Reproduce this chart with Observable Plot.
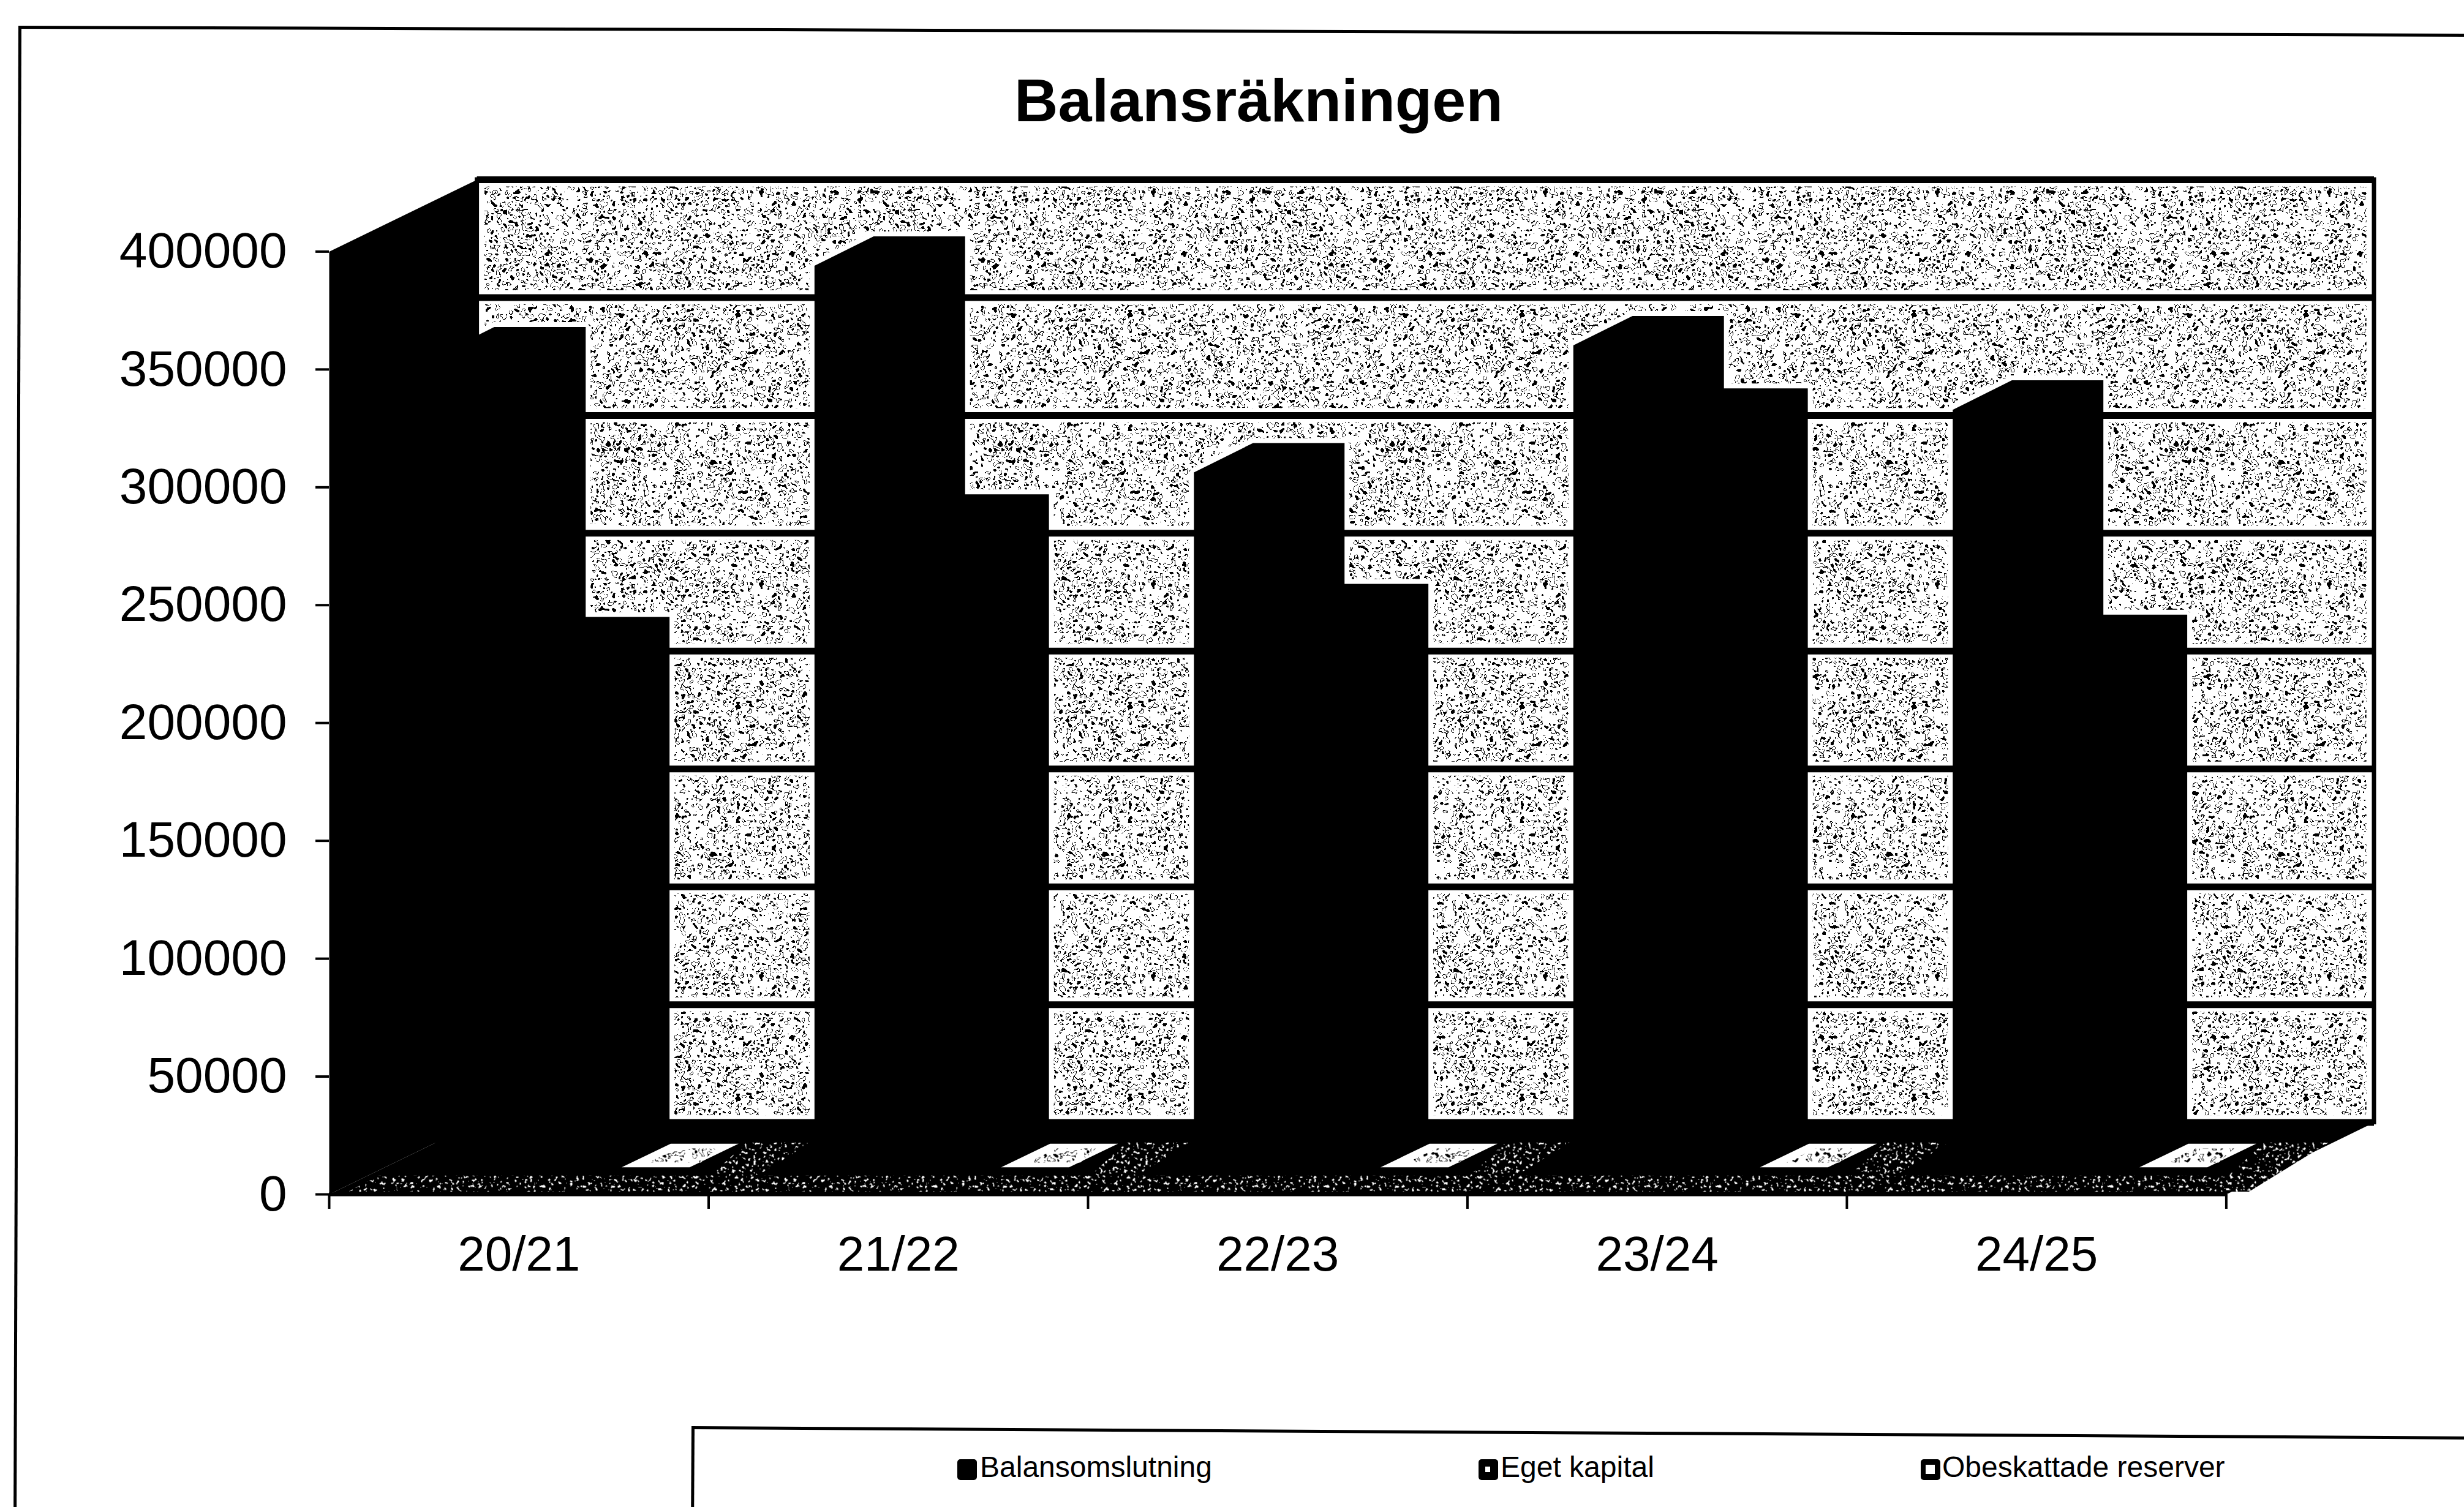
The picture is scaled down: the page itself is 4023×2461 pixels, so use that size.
<!DOCTYPE html>
<html lang="sv">
<head>
<meta charset="utf-8">
<title>Balansräkningen</title>
<script src="https://cdn.jsdelivr.net/npm/d3@7"></script>
<script src="https://cdn.jsdelivr.net/npm/@observablehq/plot@0.6"></script>
<style>
  html, body { margin: 0; padding: 0; background: #fff; }
  body { position: relative; width: 4023px; height: 2461px; overflow: hidden; font-family: "Liberation Sans", Arial, sans-serif; color: #000; }
  #chart { position: absolute; left: 0; top: 0; }
  #chart svg { display: block; }
  #title { position: absolute; left: 1655px; width: 800px; top: 108px; text-align: center; font-size: 99px; line-height: 112px; font-weight: 700; white-space: nowrap; }
  #frame { position: absolute; left: 30px; top: 42px; width: 4400px; height: 2800px; border-left: 5px solid #000; border-top: 5px solid #000; transform-origin: 0 0; transform: rotate(0.187deg); }
  #legendFrame { position: absolute; left: 1129px; top: 2329px; width: 3200px; height: 400px; border-left: 5px solid #000; border-top: 5px solid #000; transform-origin: 0 0; transform: rotate(0.33deg); }
  .lg { position: absolute; top: 2368px; font-size: 48px; line-height: 56px; white-space: nowrap; }
  .sw { position: absolute; top: 2383px; width: 32px; height: 34px; background: #000; border-radius: 5px; box-sizing: border-box; }
  .sw.mid::after { content: ""; position: absolute; left: 11px; top: 12px; width: 8px; height: 9px; background: #fff; }
  .sw.lite::after { content: ""; position: absolute; left: 8px; top: 9px; width: 15px; height: 15px; background: #fff; }
</style>
</head>
<body>
<div id="frame"></div>
<div id="chart"></div>
<div id="title">Balansräkningen</div>
<div id="legendFrame"></div>
<div id="legend"></div>
<script>
const categories = ["20/21", "21/22", "22/23", "23/24", "24/25"];
const balansomslutning = [345500, 384000, 296300, 350200, 322900];
const egetKapital = [225000, 277000, 239000, 322000, 226000];
const obeskattadeReserver = [1500, 1500, 1500, 1500, 1500];
const yTicks = [0, 50000, 100000, 150000, 200000, 250000, 300000, 350000, 400000];
const seriesNames = ["Balansomslutning", "Eget kapital", "Obeskattade reserver"];

// 3D projection of the spreadsheet-style chart, in data units
const wallRun = 0.39, wallRise = 30500;
const barBase = 10000;
const seriesSlots = [
  {a: 0.279, b: 0.52, run: 0.156, rise: 12500},
  {a: 0.50, b: 0.768, run: 0.129, rise: 10000},
  {a: 0.771, b: 0.95, run: 0.129, rise: 10000}
];
const catCount = categories.length;

const seriesValues = [balansomslutning, egetKapital, obeskattadeReserver];
const barPolys = seriesValues.flatMap((vals, s) => vals.flatMap((v, i) => {
  const {a: sa, b: sb, run, rise} = seriesSlots[s];
  const a = i + sa, b = i + sb, id = `${s}-${i}`, top = barBase + v;
  return [
    [a, barBase], [a, top], [a + run, top + rise], [b + run, top + rise],
    [b + run, barBase + rise], [b, barBase]
  ].map(([x, y]) => ({id, x, y}));
}));
const topSlot = seriesSlots[2];
const barTops = obeskattadeReserver.flatMap((v, i) => {
  const a = i + topSlot.a, b = i + topSlot.b, top = barBase + v, id = `t${i}`;
  return [[a, top], [a + topSlot.run, top + topSlot.rise], [b + topSlot.run, top + topSlot.rise], [b, top]].map(([x, y]) => ({id, x, y}));
});
const barTopSpecks = obeskattadeReserver.flatMap((v, i) => {
  const a = i + topSlot.a, b = i + topSlot.b, top = barBase + v, id = `s${i}`, r = topSlot.run;
  return [[a + 0.07, top + 2000], [a + 0.07 + r * 0.6, top + 8000], [b + r * 0.55, top + 8000], [b + 0.03, top + 2000]].map(([x, y]) => ({id, x, y}));
});
const maxTick = yTicks[yTicks.length - 1];
const sideWall = [[0, 0], [0, maxTick], [wallRun, maxTick + wallRise], [wallRun, wallRise]].map(([x, y]) => ({x, y}));
const floor = [[0, 0], [catCount, 0], [catCount + wallRun, wallRise], [wallRun, wallRise]].map(([x, y]) => ({x, y}));
const floorStrip = [[0.05, 1200], [catCount - 0.02, 1200], [catCount + 0.03, 8000], [0.13, 8000]].map(([x, y]) => ({x, y}));
const floorPatches = d3.range(catCount).flatMap(i =>
  [[i + 0.96, 1200], [i + 1.06, 1200], [i + 1.27, 22000], [i + 1.1, 22000]].map(([x, y]) => ({id: i, x, y})));
const wallCells = yTicks.slice(0, -1).map(v => ({
  x1: wallRun + 0.02, x2: catCount + wallRun - 0.02, y1: v + wallRise + 3000, y2: v + wallRise + 50000 - 3000
}));

function noiseFilter(id, freq, seed, table) {
  const fn = ["R", "G", "B"].map(c => `<feFunc${c} type="discrete" tableValues="${table}"/>`).join("");
  return `<filter id="${id}" x="0" y="0" width="100%" height="100%" color-interpolation-filters="sRGB">
      <feTurbulence type="fractalNoise" baseFrequency="${freq}" numOctaves="2" seed="${seed}" stitchTiles="stitch"/>
      <feColorMatrix type="matrix" values="1 0 0 0 0  1 0 0 0 0  1 0 0 0 0  0 0 0 0 1"/>
      <feComponentTransfer>${fn}</feComponentTransfer>
    </filter>`;
}
function speckleDefs() {
  const ns = "http://www.w3.org/2000/svg";
  const defs = document.createElementNS(ns, "defs");
  // Threshold tables: 0 is a black speck, 1 is paper. Low noise gives blobs, a narrow band gives worm-like specks.
  const worms = "0 0 0 0 0 0 0 0 0 0 0 0 0 1 1 1 1 1 1 1 1 1 1 1 0 0 1 1 1 1 1 1 1 1 1 1 1 1 1 1";
  const sparse = "0 0 0 0 0 0 0 0 0 0 0 0 0 1 1 1 1 1 1 1";
  defs.innerHTML = noiseFilter("noiseDark", 0.1, 7, worms) + noiseFilter("noiseSparse", 0.2, 3, sparse) + `
    <pattern id="speckle" patternUnits="userSpaceOnUse" width="640" height="640">
      <rect width="640" height="640" filter="url(#noiseDark)"/>
    </pattern>
    <pattern id="speckleSparse" patternUnits="userSpaceOnUse" width="640" height="640">
      <rect width="640" height="640" filter="url(#noiseSparse)"/>
    </pattern>`;
  return defs;
}

const chart = Plot.plot({
  width: 4023,
  height: 2461,
  marginLeft: 537,
  marginRight: 147,
  marginTop: 293,
  marginBottom: 511,
  style: {background: "transparent", fontFamily: "'Liberation Sans', Arial, sans-serif", color: "#000", overflow: "visible"},
  x: {domain: [0, catCount + wallRun], axis: null},
  y: {domain: [0, maxTick + wallRise], axis: null},
  marks: [
    speckleDefs,
    Plot.rect([{}], {x1: wallRun, x2: catCount + wallRun, y1: wallRise, y2: maxTick + wallRise, fill: "#fff"}),
    Plot.rect(wallCells, {x1: "x1", x2: "x2", y1: "y1", y2: "y2", fill: "url(#speckle)"}),
    Plot.line(barPolys, {x: "x", y: "y", z: "id", fill: "#fff", stroke: "#fff", strokeWidth: 16, strokeLinejoin: "miter"}),
    Plot.ruleY(yTicks, {y: d => d + wallRise, x1: wallRun, x2: catCount + wallRun, stroke: "#000", strokeWidth: 11}),
    Plot.rect([{}], {x1: wallRun, x2: catCount + wallRun, y1: wallRise, y2: maxTick + wallRise, fill: "none", stroke: "#000", strokeWidth: 7}),
    Plot.line(sideWall, {x: "x", y: "y", fill: "#000", stroke: "none"}),
    Plot.line(floor, {x: "x", y: "y", fill: "#000", stroke: "none"}),
    Plot.line(floorStrip, {x: "x", y: "y", fill: "url(#speckleSparse)", stroke: "none"}),
    Plot.line(floorPatches, {x: "x", y: "y", z: "id", fill: "url(#speckleSparse)", stroke: "none"}),
    Plot.line(barPolys, {x: "x", y: "y", z: "id", fill: "#000", stroke: "none"}),
    Plot.line(barTops, {x: "x", y: "y", z: "id", fill: "#fff", stroke: "none"}),
    Plot.line(barTopSpecks, {x: "x", y: "y", z: "id", fill: "url(#speckle)", stroke: "none"}),
    Plot.axisY({ticks: yTicks, anchor: "left", label: null, tickSize: 22, tickPadding: 47, fontSize: 82, strokeWidth: 4, tickFormat: d => String(d)}),
    Plot.ruleY([0], {stroke: "#000", strokeWidth: 6, x1: 0, x2: catCount}),
    Plot.axisX({ticks: d3.range(catCount + 1), anchor: "bottom", label: null, tickSize: 24, strokeWidth: 4, tickFormat: () => ""}),
    Plot.axisX({ticks: d3.range(catCount).map(i => i + 0.5), anchor: "bottom", label: null, tickSize: 0, tickPadding: 68, fontSize: 80, tickFormat: d => categories[Math.floor(d)]})
  ]
});
document.getElementById("chart").append(chart);

// Legend, placed below the plot area
const legend = document.getElementById("legend");
const legendPos = [[1563, 1600, ""], [2414, 2450, "mid"], [3136, 3171, "lite"]];
seriesNames.forEach((name, i) => {
  const sw = document.createElement("div");
  sw.className = "sw " + legendPos[i][2];
  sw.style.left = legendPos[i][0] + "px";
  const t = document.createElement("div");
  t.className = "lg";
  t.style.left = legendPos[i][1] + "px";
  t.textContent = name;
  legend.append(sw, t);
});
</script>
</body>
</html>
